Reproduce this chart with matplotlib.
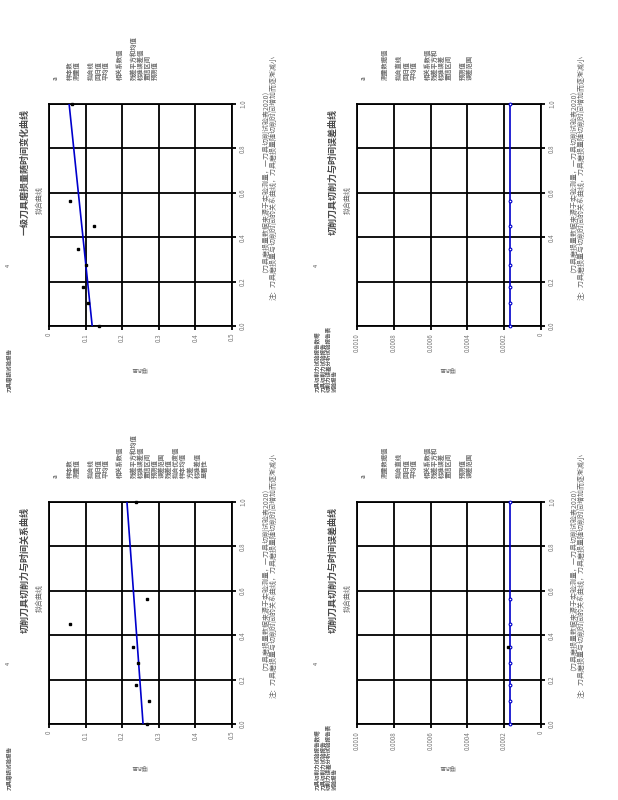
import matplotlib
matplotlib.use('Agg')
import matplotlib.pyplot as plt

plt.rcParams['font.family'] = ['Noto Sans CJK SC', 'DejaVu Sans']

W, H = 618, 800

# 数据
time_pts = [0, 0.104, 0.176, 0.273, 0.345, 0.452, 0.562, 1.0]
time_ticks = [0, 0.2, 0.4, 0.6, 0.8, 1.0]
time_labels = ['0.0', '0.2', '0.4', '0.6', '0.8', '1.0']

wear_ticks = [0, 0.1, 0.2, 0.3, 0.4, 0.5]
wear_labels = ['0', '0.1', '0.2', '0.3', '0.4', '0.5']
err_ticks = [0, 0.0002, 0.0004, 0.0006, 0.0008, 0.001]
err_labels = ['0', '0.0002', '0.0004', '0.0006', '0.0008', '0.0010']

ul_vals = [0.137, 0.107, 0.093, 0.101, 0.079, 0.123, 0.057, 0.063]
ul_fit_x = [0, 1.0]
ul_fit = [0.118, 0.055]

ll_vals = [0.268, 0.273, 0.238, 0.243, 0.230, 0.057, 0.268, 0.238]
ll_fit_x = [0, 1.0]
ll_fit = [0.257, 0.213]

ur_vals = [0.000168, 0.000168, 0.000168, 0.000168, 0.000168, 0.000168, 0.000168, 0.000168]
lr_vals = [0.000168, 0.000168, 0.000168, 0.000168, 0.000168, 0.000168, 0.000168, 0.000168]
lr_extra_x = [0.345]
lr_extra = [0.000179]

titles = ['一级刀具磨损量随时间变化曲线', '切削刀具切削力与时间误差曲线',
          '切削刀具切削力与时间关系曲线', '切削刀具切削力与时间误差曲线']
subtitle = '拟合曲线'
caption = ('（刀具磨损量数据来源于实验测量，一刀具切削试验表2020）\n'
           '注：刀具磨损量与切削时间的关系曲线，刀具磨损量随切削时间增加而逐渐减小')
legend_left = ['a', '', '样本数', '测量值', '', '拟合线', '回归值', '平均值',
               '', '相关系数值', '', '残差平方和均值', '标准误差值', '置信区间', '预测值']
legend_left2 = legend_left + ['误差范围', '残差值', '拟合优度值', '样本均值', '方差',
                              '标准差值', '显著性']
legend_right = ['a', '', '', '测量数据值', '', '拟合直线', '回归值', '平均值', '',
                '相关系数值', '残差平方和', '标准误差', '置信区间', '', '预测值', '误差范围']
header_left = '刀具磨损试验报告'
header_right = '刀具切削力试验报告数据\n刀具切削力试验报告\n切削力误差分析试验报告表\n试验报告'

fig = plt.figure(figsize=(W / 100, H / 100), dpi=100)


def txt(x, y, s, **kw):
    fig.text(x / W, 1 - y / H, s, **kw)


def make_ax(left, top, right, bottom):
    ax = fig.add_axes([left / W, 1 - bottom / H, (right - left) / W, (bottom - top) / H])
    for sp in ax.spines.values():
        sp.set_linewidth(1.3)
        sp.set_color('black')
    ax.grid(True, color='black', lw=1.3)
    ax.set_axisbelow(True)
    ax.set_ylim(0, 1)
    ax.set_yticks(time_ticks)
    ax.yaxis.tick_right()
    ax.set_yticklabels(time_labels, rotation=90, va='center', fontsize=4.5, color='#777777')
    ax.tick_params(length=3, width=1.3, direction='out', pad=2)
    return ax


# 左上
ax = make_ax(49, 104, 232, 326)
ax.set_xlim(0, 0.5)
ax.set_xticks(wear_ticks)
ax.set_xticklabels(wear_labels, rotation=90, fontsize=4.5, color='#777777')
ax.plot(ul_fit, ul_fit_x, color='#0000cc', lw=1.2, zorder=3)
ax.plot(ul_vals, time_pts, 's', color='black', ms=1.6, zorder=4, clip_on=False)

# 左下
ax = make_ax(49, 502, 232, 724)
ax.set_xlim(0, 0.5)
ax.set_xticks(wear_ticks)
ax.set_xticklabels(wear_labels, rotation=90, fontsize=4.5, color='#777777')
ax.plot(ll_fit, ll_fit_x, color='#0000cc', lw=1.2, zorder=3)
ax.plot(ll_vals, time_pts, 's', color='black', ms=1.6, zorder=4, clip_on=False)

# 右上
ax = make_ax(357, 104, 541, 326)
ax.set_xlim(0.001, 0)
ax.set_xticks(err_ticks)
ax.set_xticklabels(err_labels, rotation=90, fontsize=4.5, color='#777777')
ax.plot(ur_vals, time_pts, '-o', color='#0000cc', lw=1.2, ms=2.0, mfc='white',
        mew=0.8, zorder=4, clip_on=False)

# 右下
ax = make_ax(357, 502, 541, 724)
ax.set_xlim(0.001, 0)
ax.set_xticks(err_ticks)
ax.set_xticklabels(err_labels, rotation=90, fontsize=4.5, color='#777777')
ax.plot(lr_vals, time_pts, '-o', color='#0000cc', lw=1.2, ms=2.0, mfc='white',
        mew=0.8, zorder=4, clip_on=False)
ax.plot(lr_extra, lr_extra_x, 's', color='black', ms=1.8, zorder=5)

# 文字
offsets = [(0, 0), (308, 0), (0, 398), (308, 398)]
legends = [legend_left, legend_right, legend_left2, legend_right]
headers = [header_left, header_right, header_left, header_right]
for i, (dx, dy) in enumerate(offsets):
    txt(25 + dx, 172 + dy, titles[i], rotation=90, ha='center', va='center',
        fontsize=6.5, color='#4a4a4a', fontweight='bold')
    txt(40 + dx, 200 + dy, subtitle, rotation=90, ha='center', va='center',
        fontsize=5, color='#666666')
    txt(8 + dx, 265 + dy, '4', rotation=90, ha='center', va='center',
        fontsize=4, color='#555555')
    txt(52 + dx, 80 + dy, '\n'.join(legends[i]), rotation=90, ha='left', va='bottom',
        fontsize=4.5, linespacing=1.0, color='#6e6e6e', fontweight='bold')
    txt(268 + dx, 178 + dy, caption, rotation=90, ha='center', va='center',
        fontsize=5, linespacing=1.5, color='#666666')
    txt(140 + dx, 370 + dy, '磨损量', rotation=180, ha='center', va='center',
        fontsize=4, color='#777777')
    txt(7 + dx, 392 + dy, headers[i], rotation=90, ha='left', va='bottom',
        fontsize=4, linespacing=1.0, color='#555555', fontweight='bold')

fig.savefig('out.png', dpi=100, facecolor='white')
